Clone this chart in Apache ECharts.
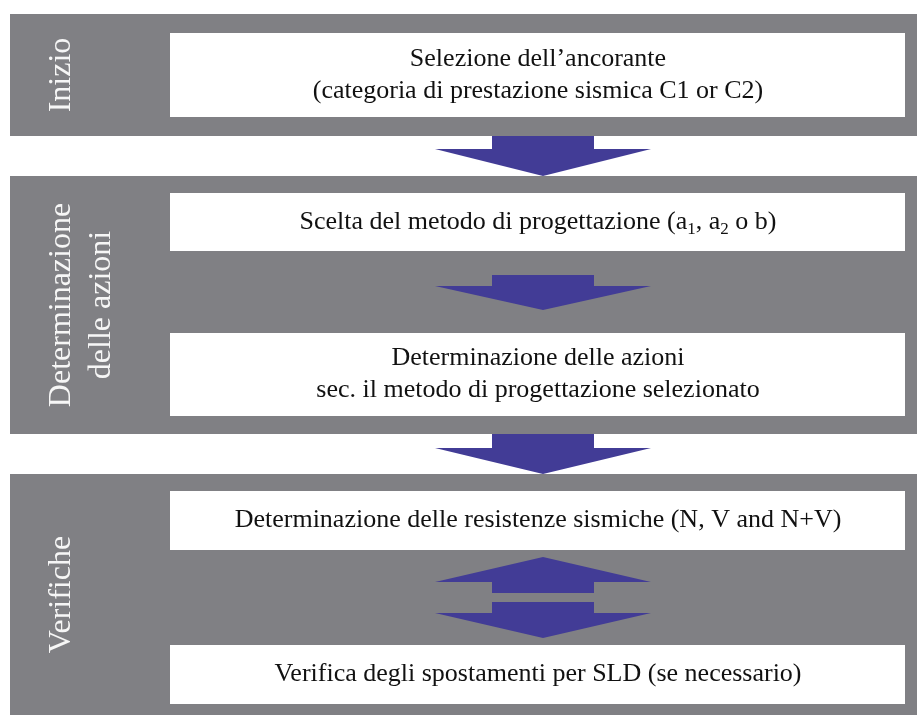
<!DOCTYPE html>
<html><head><meta charset="utf-8">
<script src="https://cdn.jsdelivr.net/npm/echarts@6/dist/echarts.min.js"></script>
<style>html,body{margin:0;padding:0;background:#fff}#c{width:917px;height:715px}</style>
</head><body><div id="c"></div>
<script>
// ---- content ----
const sectionLabels = ['Inizio', 'Determinazione\ndelle azioni', 'Verifiche'];
const stepTexts = [
  'Selezione dell\u2019ancorante\n(categoria di prestazione sismica C1 or C2)',
  'Scelta del metodo di progettazione (a{sub|1}, a{sub|2} o b)',
  'Determinazione delle azioni\nsec. il metodo di progettazione selezionato',
  'Determinazione delle resistenze sismiche (N, V and N+V)',
  'Verifica degli spostamenti per SLD (se necessario)'
];
// ---- layout rows (chart units on the vertical axis) ----
const sectionRows = [[14, 136], [176, 434], [474, 715]];
const stepRows = [[33, 117], [193, 251], [333, 416], [491, 550], [645, 704]];
// [start, head base, end, direction] 1 = down, -1 = up
const arrowRows = [[136, 149, 176, 1], [275, 286, 310, 1], [434, 448, 474, 1], [557, 582, 593, -1], [602, 613, 638, 1]];

const GRAY = '#808084';
const BLUE = '#423C96';
const SERIF = '"Liberation Serif", "Times New Roman", serif';

const chart = echarts.init(document.getElementById('c'), null, {renderer: 'canvas'});

function panelItem(params, api) {
  const y0 = api.value(0), y1 = api.value(1);
  const p0 = api.coord([10, y0]), p1 = api.coord([917, y1]);
  const i = params.dataIndex;
  const lines = sectionLabels[i].split('\n').length;
  const lc = api.coord([62 + (lines - 1) * 20, (y0 + y1) / 2]);
  return {
    type: 'group',
    children: [
      {type: 'rect', shape: {x: p0[0], y: p0[1], width: p1[0] - p0[0], height: p1[1] - p0[1]}, style: {fill: GRAY}},
      {type: 'text', x: lc[0], y: lc[1], rotation: Math.PI / 2,
        style: {text: sectionLabels[i], align: 'center', verticalAlign: 'middle',
          fontFamily: SERIF, fontSize: 32, lineHeight: 40, fill: '#f6f6f6'}}
    ]
  };
}

function stepItem(params, api) {
  const y0 = api.value(0), y1 = api.value(1);
  const p0 = api.coord([170, y0]), p1 = api.coord([905, y1]);
  const i = params.dataIndex;
  const tc = api.coord([538, (y0 + y1) / 2]);
  return {
    type: 'group',
    children: [
      {type: 'rect', shape: {x: p0[0], y: p0[1], width: p1[0] - p0[0], height: p1[1] - p0[1]}, style: {fill: '#ffffff'}},
      {type: 'text', x: tc[0], y: tc[1],
        style: {text: stepTexts[i], align: 'center', verticalAlign: 'middle',
          fontFamily: SERIF, fontSize: 26, lineHeight: 32, fill: '#111111',
          rich: {sub: {fontFamily: SERIF, fontSize: 17, lineHeight: 9, verticalAlign: 'bottom', fill: '#111111'}}}}
    ]
  };
}

function arrowItem(params, api) {
  const a = api.value(0), hb = api.value(1), b = api.value(2), dir = api.value(3);
  const cx = 543, sw = 51, hw = 108;
  let pts;
  if (dir > 0) {
    pts = [[cx - sw, a], [cx + sw, a], [cx + sw, hb], [cx + hw, hb], [cx, b], [cx - hw, hb], [cx - sw, hb]];
  } else {
    pts = [[cx - sw, b], [cx + sw, b], [cx + sw, hb], [cx + hw, hb], [cx, a], [cx - hw, hb], [cx - sw, hb]];
  }
  return {type: 'polygon', shape: {points: pts.map(p => api.coord(p))}, style: {fill: BLUE}};
}

chart.setOption({
  animation: false,
  backgroundColor: '#ffffff',
  grid: {left: 0, right: 0, top: 0, bottom: 0},
  xAxis: {type: 'value', min: 0, max: 917, show: false},
  yAxis: {type: 'value', min: 0, max: 715, inverse: true, show: false},
  series: [
    {type: 'custom', clip: false, renderItem: panelItem, data: sectionRows, encode: {x: -1, y: [0, 1]}, silent: true},
    {type: 'custom', clip: false, renderItem: stepItem, data: stepRows, encode: {x: -1, y: [0, 1]}, silent: true},
    {type: 'custom', clip: false, renderItem: arrowItem, data: arrowRows, encode: {x: -1, y: [0, 2]}, silent: true}
  ]
});
</script></body></html>
